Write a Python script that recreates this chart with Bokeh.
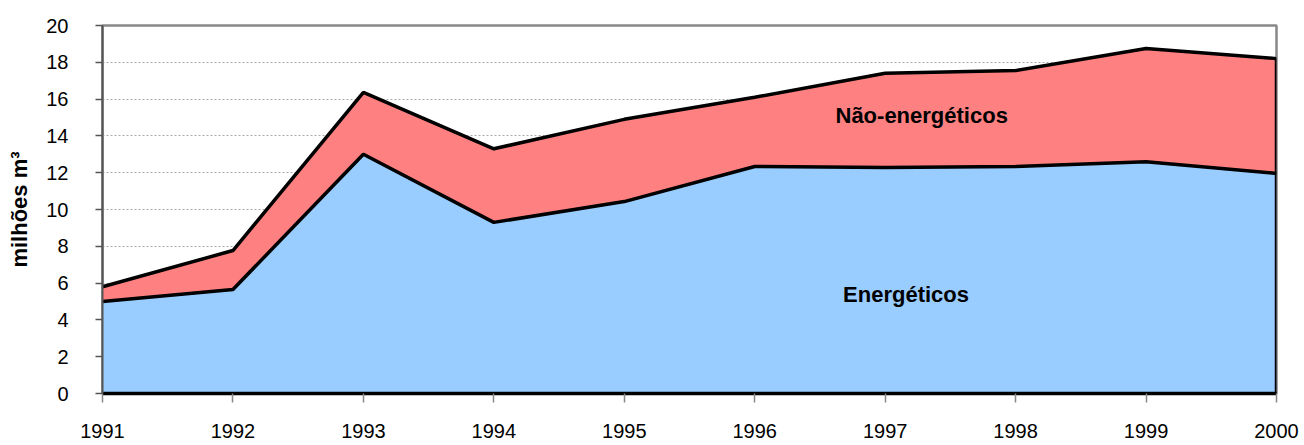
from bokeh.plotting import figure
from bokeh.embed import file_html
from bokeh.resources import INLINE
from bokeh.models import Range1d, FixedTicker, Label

years = [1991, 1992, 1993, 1994, 1995, 1996, 1997, 1998, 1999, 2000]
energeticos = [5.0, 5.65, 13.0, 9.3, 10.43, 12.34, 12.28, 12.34, 12.6, 11.96]
nao_energeticos = [0.8, 2.12, 3.36, 4.0, 4.47, 3.76, 5.12, 5.21, 6.15, 6.24]
y_ticks = [0, 2, 4, 6, 8, 10, 12, 14, 16, 18, 20]

total = [a + b for a, b in zip(energeticos, nao_energeticos)]
zeros = [0] * len(years)

FONT = "Liberation Sans"

p = figure(width=1300, height=442, output_backend="svg", toolbar_location=None,
           x_range=Range1d(1991, 2000), y_range=Range1d(0, 20),
           min_border_left=102, min_border_right=24, min_border_top=25,
           min_border_bottom=49)
p.background_fill_color = "white"
p.border_fill_color = "white"
p.outline_line_color = "#888888"
p.outline_line_width = 2.5

p.varea(x=years, y1=zeros, y2=energeticos, fill_color="#99CCFF")
p.varea(x=years, y1=energeticos, y2=total, fill_color="#FF8080")
p.line(x=years, y=energeticos, line_color="black", line_width=3.5)
p.line(x=years, y=total, line_color="black", line_width=3.5)
p.line(x=[years[-1], years[-1]], y=[0, total[-1]], line_color="black", line_width=3.5)

p.xaxis.ticker = FixedTicker(ticks=years)
p.yaxis.ticker = FixedTicker(ticks=y_ticks)
p.xgrid.grid_line_color = None
p.ygrid.grid_line_color = "#aaaaaa"
p.ygrid.grid_line_dash = "2 2"
p.ygrid.grid_line_width = 1

p.xaxis.axis_line_color = "black"
p.xaxis.axis_line_width = 3.5
p.xaxis.major_tick_line_color = "#888888"
p.xaxis.major_tick_line_width = 1.5
p.xaxis.major_tick_in = 0
p.xaxis.major_tick_out = 9
p.xaxis.minor_tick_line_color = None
p.xaxis.major_label_standoff = 21
p.xaxis.major_label_text_font = FONT
p.xaxis.major_label_text_font_size = "20px"
p.xaxis.major_label_text_color = "black"

p.yaxis.axis_line_color = "#555555"
p.yaxis.axis_line_width = 2
p.yaxis.major_tick_line_color = "#555555"
p.yaxis.major_tick_line_width = 1.5
p.yaxis.major_tick_in = 0
p.yaxis.major_tick_out = 7
p.yaxis.minor_tick_line_color = None
p.yaxis.major_label_standoff = 27
p.yaxis.major_label_text_font = FONT
p.yaxis.major_label_text_font_size = "20px"
p.yaxis.major_label_text_color = "black"
p.yaxis.axis_label = "milhões m³"
p.yaxis.axis_label_text_font = FONT
p.yaxis.axis_label_text_font_style = "bold"
p.yaxis.axis_label_text_font_size = "22px"
p.yaxis.axis_label_text_color = "black"
p.yaxis.axis_label_standoff = 11

p.add_layout(Label(x=1997.28, y=15.1, text="Não-energéticos", text_font=FONT,
                   text_font_style="bold", text_font_size="22px", text_color="black",
                   text_align="center", text_baseline="middle"))
p.add_layout(Label(x=1997.16, y=5.4, text="Energéticos", text_font=FONT,
                   text_font_style="bold", text_font_size="22px", text_color="black",
                   text_align="center", text_baseline="middle"))

open("out.html", "w").write(file_html(p, INLINE))
